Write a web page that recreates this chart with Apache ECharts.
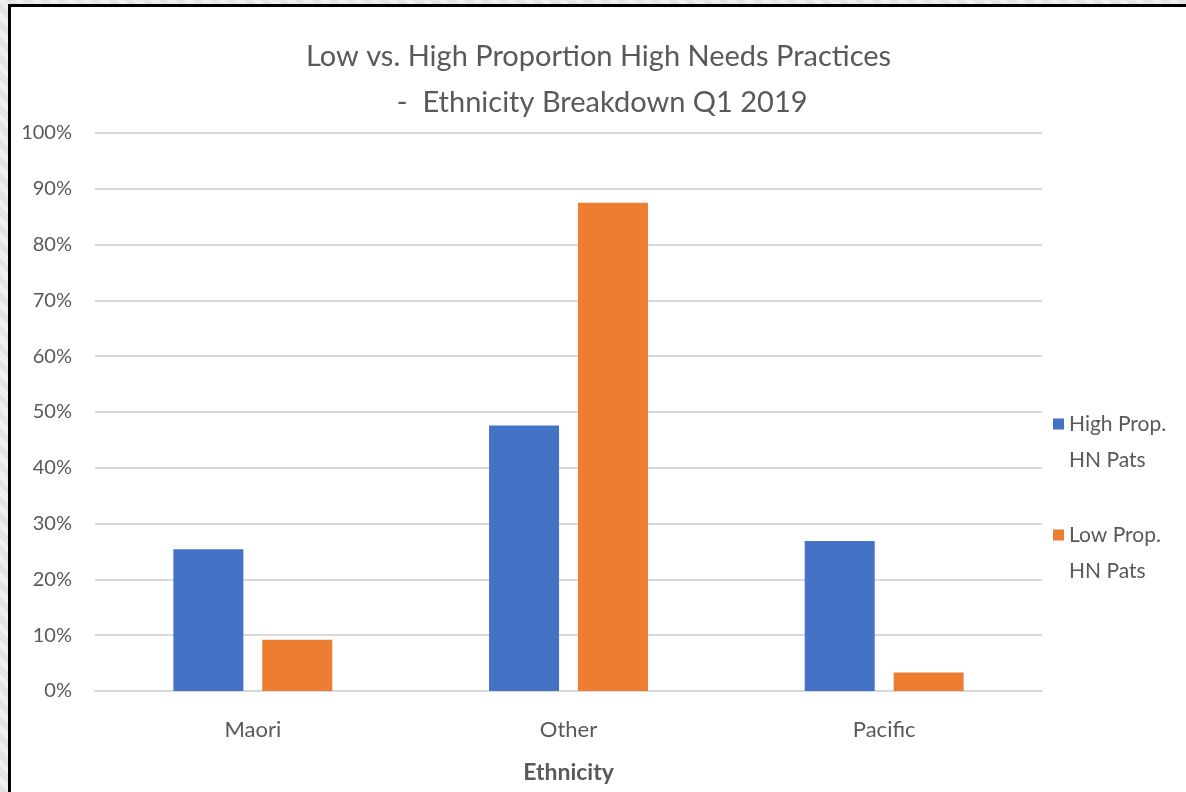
<!DOCTYPE html>
<html>
<head>
<meta charset="utf-8">
<script src="https://cdn.jsdelivr.net/npm/echarts@6/dist/echarts.min.js"></script>
<style>
  html, body { margin: 0; padding: 0; }
  body {
    width: 1186px; height: 792px; overflow: hidden; position: relative;
    background: repeating-linear-gradient(45deg, #e4e4e4 0px, #e4e4e4 6px, #efefef 6px, #efefef 12px);
  }
  #frame {
    position: absolute; left: 8px; top: 4px; width: 1190px; height: 800px;
    background: #000;
  }
  #chart {
    position: absolute; left: 11px; top: 7px; width: 1175px; height: 785px;
    background: #fff;
  }
</style>
</head>
<body>
<div id="frame"></div>
<div id="chart"></div>
<script>
// Share of patients by ethnicity, Q1 2019
const categories = ['Maori', 'Other', 'Pacific'];
const highPropHN = [25.4, 47.6, 26.9];
const lowPropHN = [9.2, 87.5, 3.3];
const seriesNames = ['High Prop.\nHN Pats', 'Low Prop.\nHN Pats'];
const titleLines = ['Low vs. High Proportion High Needs Practices', ' -  Ethnicity Breakdown Q1 2019'];
const axisName = 'Ethnicity';

const FONT = 'Lato, "Open Sans", sans-serif';
const TEXT = '#595959';
const GRID = '#d9d9d9';

const chart = echarts.init(document.getElementById('chart'), null, { renderer: 'canvas' });
chart.setOption({
  animation: false,
  backgroundColor: '#fff',
  color: ['#4472C4', '#ED7D31'],
  title: {
    text: titleLines.join('\n'),
    left: 'center',
    top: 27,
    padding: 0,
    textStyle: {
      fontFamily: FONT, fontSize: 29, fontWeight: 'normal', color: TEXT, lineHeight: 46
    }
  },
  legend: {
    orient: 'vertical',
    left: 1042,
    top: 363,
    padding: 0,
    itemWidth: 11,
    itemHeight: 11,
    itemGap: 3,
    icon: 'rect',
    data: seriesNames,
    // a blank leading line keeps the marker level with the first text line
    formatter: name => '\u00a0\n' + name,
    textStyle: { fontFamily: FONT, fontSize: 21, color: TEXT, lineHeight: 36 }
  },
  grid: { left: 84, right: 144, top: 126, bottom: 101, containLabel: false },
  xAxis: {
    type: 'category',
    data: categories,
    name: axisName,
    nameLocation: 'middle',
    nameGap: 70,
    nameTextStyle: { fontFamily: FONT, fontSize: 23, fontWeight: 'bold', color: TEXT },
    axisLine: { show: true, lineStyle: { color: GRID, width: 2 } },
    axisTick: { show: false },
    axisLabel: { fontFamily: FONT, fontSize: 22, color: TEXT, margin: 28 }
  },
  yAxis: {
    type: 'value',
    min: 0, max: 100, interval: 10,
    axisLine: { show: false },
    axisTick: { show: false },
    axisLabel: { fontFamily: FONT, fontSize: 20, color: TEXT, margin: 23, formatter: '{value}%' },
    splitLine: { lineStyle: { color: GRID, width: 2 } }
  },
  series: [
    { name: seriesNames[0], type: 'bar', data: highPropHN, barWidth: 70, barGap: '27%' },
    { name: seriesNames[1], type: 'bar', data: lowPropHN, barWidth: 70, barGap: '27%' }
  ]
});
</script>
</body>
</html>
